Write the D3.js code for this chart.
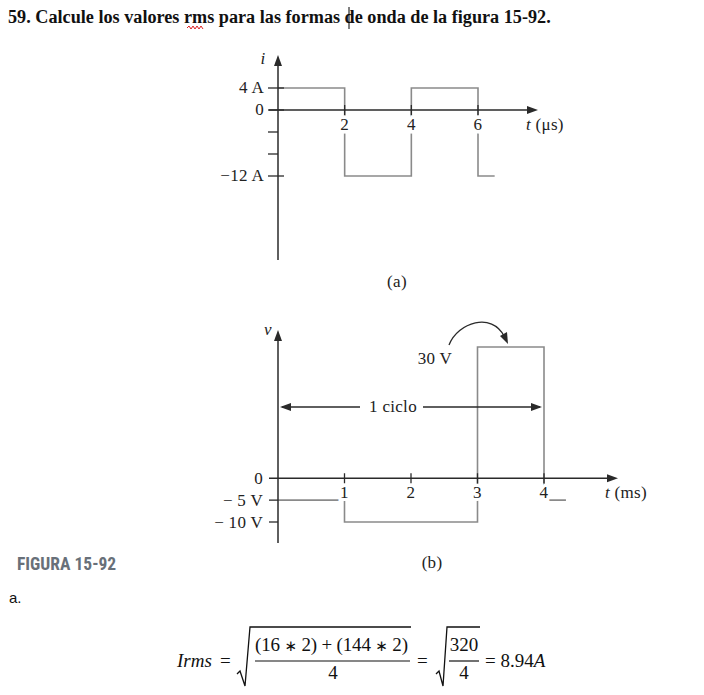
<!DOCTYPE html>
<html><head><meta charset="utf-8">
<script src="https://cdn.jsdelivr.net/npm/d3@7"></script>
<style>html,body{margin:0;padding:0;background:#fff;}svg{display:block;}</style>
</head><body>
<script>
// ---- data ----
const aTimes = [0, 2, 4, 6, 6.5];
const aLevels = [4, -12, 4, -12];
const aXTicks = [2, 4, 6];
const aYTicks = [4, 0, -4, -8, -12];
const aYLabels = ["4 A", "0", "", "", "\u221212 A"];

const bTimes = [0, 1, 3, 4, 4.33];
const bLevels = [-5, -10, 30, -5];
const bXTicks = [1, 2, 3, 4];
const bYTicks = [0, -5, -10];
const bYLabels = ["0", "\u2212 5 V", "\u2212 10 V"];

const W = 704, H = 695;
const svg = d3.select("body").append("svg").attr("width", W).attr("height", H);
svg.append("rect").attr("width", W).attr("height", H).attr("fill", "#fff");

const serif = "'Liberation Serif','Times New Roman',serif";
const axisCol = "#2a2a2a", waveCol = "#8a8a8a", textCol = "#222";
const LFS = 17; // label font size

// Title
svg.append("text").attr("x", 8).attr("y", 23).attr("font-family", serif).attr("font-weight", "bold")
  .attr("font-size", 18.2).attr("fill", "#111")
  .text("59. Calcule los valores rms para las formas de onda de la figura 15-92.");
(function(){
  let p = "M187,28"; let up = true;
  for (let x = 189; x <= 203; x += 2) { p += `L${x},${up ? 26 : 29}`; up = !up; }
  svg.append("path").attr("d", p).attr("fill", "none").attr("stroke", "#d22").attr("stroke-width", 1);
})();
svg.append("line").attr("x1", 349).attr("x2", 349).attr("y1", 7).attr("y2", 29).attr("stroke", "#000").attr("stroke-width", 1);

function arrowHead(g, x, y, dir, len = 11, half = 4) {
  let pts;
  if (dir === "up") pts = [[x, y], [x - half, y + len], [x + half, y + len]];
  else if (dir === "right") pts = [[x, y], [x - len, y - half], [x - len, y + half]];
  else pts = [[x, y], [x + len, y - half], [x + len, y + half]];
  g.append("path").attr("d", "M" + pts.map(p => p.join(",")).join("L") + "Z").attr("fill", axisCol);
}

function stepPoints(times, levels) {
  const pts = levels.map((v, i) => [times[i], v]);
  pts.push([times[times.length - 1], levels[levels.length - 1]]);
  return pts;
}

function label(g, x, y, txt, anchor) {
  return g.append("text").attr("x", x).attr("y", y).attr("text-anchor", anchor || "start")
    .attr("font-family", serif).attr("font-size", LFS).attr("letter-spacing", 0.3).attr("fill", textCol).text(txt);
}

// ---------------- Chart (a) ----------------
{
  const g = svg.append("g");
  const x = d3.scaleLinear().domain([0, 6]).range([278, 478]);
  const y = d3.scaleLinear().domain([4, -12]).range([88, 176]);
  const x0 = x(0), y0 = y(0);
  const line = d3.line().x(d => x(d[0])).y(d => y(d[1])).curve(d3.curveStepAfter);
  g.append("path").attr("d", line(stepPoints(aTimes, aLevels))).attr("fill", "none")
    .attr("stroke", waveCol).attr("stroke-width", 1.6);
  g.append("line").attr("x1", x0).attr("x2", x0).attr("y1", 66).attr("y2", 260).attr("stroke", axisCol).attr("stroke-width", 1.5);
  arrowHead(g, x0, 55, "up");
  g.append("line").attr("x1", 269).attr("x2", 530).attr("y1", y0).attr("y2", y0).attr("stroke", axisCol).attr("stroke-width", 1.5);
  arrowHead(g, 538, y0, "right");
  aYTicks.forEach((v, i) => {
    g.append("line").attr("x1", 268).attr("x2", aYLabels[i] ? 284 : 278).attr("y1", y(v)).attr("y2", y(v))
      .attr("stroke", axisCol).attr("stroke-width", 1.3);
    if (aYLabels[i]) label(g, 264, y(v) + 5, aYLabels[i], "end");
  });
  aXTicks.forEach(v => {
    g.append("line").attr("x1", x(v)).attr("x2", x(v)).attr("y1", y0 - 5).attr("y2", y0 + 5).attr("stroke", axisCol).attr("stroke-width", 1.3);
    label(g, x(v), 130, v, "middle").attr("stroke", "#fff").attr("stroke-width", 7).attr("paint-order", "stroke");
  });
  label(g, 263, 64, "i", "middle").attr("font-style", "italic");
  const tl = label(g, 526, 130, "");
  tl.append("tspan").attr("font-style", "italic").text("t");
  tl.append("tspan").text(" (\u03bcs)");
  label(g, 397, 287, "(a)", "middle");
}

// ---------------- Chart (b) ----------------
{
  const g = svg.append("g");
  const x = d3.scaleLinear().domain([0, 4]).range([278, 544]);
  const y = d3.scaleLinear().domain([30, -10]).range([347, 522]);
  const x0 = x(0), y0 = y(0);
  const line = d3.line().x(d => x(d[0])).y(d => y(d[1])).curve(d3.curveStepAfter);
  g.append("path").attr("d", line(stepPoints(bTimes, bLevels))).attr("fill", "none")
    .attr("stroke", waveCol).attr("stroke-width", 1.6);
  g.append("line").attr("x1", x0).attr("x2", x0).attr("y1", 341).attr("y2", 543).attr("stroke", axisCol).attr("stroke-width", 1.5);
  arrowHead(g, x0, 330, "up");
  g.append("line").attr("x1", 269).attr("x2", 610).attr("y1", y0).attr("y2", y0).attr("stroke", axisCol).attr("stroke-width", 1.5);
  arrowHead(g, 618, y0, "right");
  bYTicks.forEach((v, i) => {
    if (v !== 0) g.append("line").attr("x1", 269).attr("x2", 278).attr("y1", y(v)).attr("y2", y(v)).attr("stroke", axisCol).attr("stroke-width", 1.3);
    label(g, 263, y(v) + 6, bYLabels[i], "end");
  });
  bXTicks.forEach(v => {
    g.append("line").attr("x1", x(v)).attr("x2", x(v)).attr("y1", y0 - 5).attr("y2", y0 + 5).attr("stroke", axisCol).attr("stroke-width", 1.3);
    label(g, x(v), 498, v, "middle").attr("stroke", "#fff").attr("stroke-width", 6).attr("paint-order", "stroke");
  });
  label(g, 268, 335, "v", "middle").attr("font-style", "italic");
  const tl = label(g, 605, 498, "");
  tl.append("tspan").attr("font-style", "italic").text("t");
  tl.append("tspan").text(" (ms)");
  const cy = 407;
  g.append("line").attr("x1", x(0) + 4).attr("x2", 360).attr("y1", cy).attr("y2", cy).attr("stroke", axisCol).attr("stroke-width", 1.3);
  g.append("line").attr("x1", 423).attr("x2", x(4) - 4).attr("y1", cy).attr("y2", cy).attr("stroke", axisCol).attr("stroke-width", 1.3);
  arrowHead(g, x(0) + 2, cy, "left");
  arrowHead(g, x(4) - 2, cy, "right");
  label(g, 393, 412, "1 ciclo", "middle");
  label(g, 435, 364, "30 V", "middle");
  g.append("path").attr("d", "M449,345 C458,322 492,312 504,336").attr("fill", "none")
    .attr("stroke", axisCol).attr("stroke-width", 1.3);
  g.append("path").attr("d", "M508,344 L500,336 L507,332 Z").attr("fill", axisCol);
  label(g, 432, 568, "(b)", "middle");
}

svg.append("text").attr("x", 17).attr("y", 570).attr("font-family", "'Liberation Sans Narrow','Roboto Condensed','Liberation Sans',sans-serif")
  .attr("font-weight", "bold").attr("font-size", 17.5).attr("fill", "#687079").text("FIGURA 15-92");
svg.append("text").attr("x", 9).attr("y", 603).attr("font-family", "'Liberation Sans',Arial,sans-serif")
  .attr("font-size", 15).attr("fill", "#111").text("a.");

// Formula
{
  const g = svg.append("g").attr("font-family", serif).attr("fill", "#111");
  const fs = 19;
  g.append("text").attr("x", 177).attr("y", 667).attr("font-size", fs).attr("font-style", "italic").text("Irms");
  g.append("text").attr("x", 220).attr("y", 667).attr("font-size", fs).text("=");
  g.append("path").attr("d", "M237,674 L240,671 L245,686 L250,627 L411,627").attr("fill", "none").attr("stroke", "#111").attr("stroke-width", 1.3);
  const num = g.append("text").attr("x", 255).attr("y", 651).attr("font-size", fs)
    .attr("textLength", 153).attr("lengthAdjust", "spacing");
  const parts = ["(16 ", "\u2217", " 2) + (144 ", "\u2217", " 2)"];
  parts.forEach(p => {
    const s = num.append("tspan").text(p);
    if (p === "\u2217") s.attr("font-family", "'DejaVu Sans',sans-serif").attr("font-size", 15);
  });
  g.append("line").attr("x1", 255).attr("x2", 410).attr("y1", 661).attr("y2", 661).attr("stroke", "#111").attr("stroke-width", 1.2);
  g.append("text").attr("x", 333).attr("y", 679).attr("text-anchor", "middle").attr("font-size", fs).text("4");
  g.append("text").attr("x", 417).attr("y", 667).attr("font-size", fs).text("=");
  g.append("path").attr("d", "M436,674 L439,671 L443,686 L447,627 L480,627").attr("fill", "none").attr("stroke", "#111").attr("stroke-width", 1.3);
  g.append("text").attr("x", 464).attr("y", 651).attr("text-anchor", "middle").attr("font-size", fs).text("320");
  g.append("line").attr("x1", 449).attr("x2", 479).attr("y1", 661).attr("y2", 661).attr("stroke", "#111").attr("stroke-width", 1.2);
  g.append("text").attr("x", 464).attr("y", 679).attr("text-anchor", "middle").attr("font-size", fs).text("4");
  const t = g.append("text").attr("x", 485).attr("y", 667).attr("font-size", fs);
  t.append("tspan").text("= 8.94");
  t.append("tspan").attr("font-style", "italic").text("A");
}
</script>
</body></html>
